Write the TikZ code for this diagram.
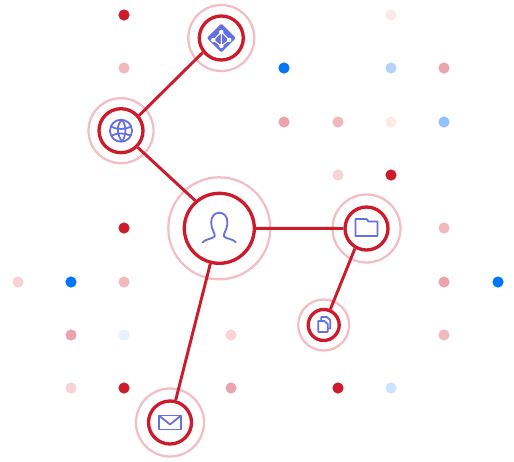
\documentclass[tikz,border=0pt]{standalone}
\usepackage{xcolor}
\usetikzlibrary{calc}
\definecolor{hubred}{HTML}{CE1B2C}
\definecolor{ringred}{HTML}{F3BEC3}
\definecolor{icoblue}{HTML}{6570E2}
\definecolor{dotblue}{HTML}{0076FF}
\definecolor{dotsky}{HTML}{B3D4FF}
\definecolor{dotice}{HTML}{CCE3FF}
\definecolor{dotmid}{HTML}{93C1FB}
\definecolor{dotpale}{HTML}{E6F0FF}
\definecolor{dotrose}{HTML}{EAA4AB}
\definecolor{dotpink}{HTML}{EFB9BE}
\definecolor{dotlight}{HTML}{F7D3D6}
\definecolor{dotfaint}{HTML}{FCE9E8}
\tikzset{
  hub/.style={circle,draw=hubred,line width=2.5pt,minimum size=#1*0.75pt,inner sep=0pt},
  ring/.style={circle,draw=ringred,line width=1.7pt,minimum size=#1*0.75pt,inner sep=0pt},
  link/.style={draw=hubred,line width=2.2pt},
  icon/.style={draw=icoblue,line width=1.35pt,line join=round},
  dot/.style={circle,fill=#1,minimum size=8.4pt,inner sep=0pt}
}
\begin{document}
\begin{tikzpicture}[x=0.75pt,y=-0.75pt]
  \useasboundingbox (0,0) rectangle (514,461);
  % background dots
  \foreach \x/\y/\c in {124/15/hubred,391/15/dotfaint,
      124/68/dotpink,284/68/dotblue,391/68/dotsky,444/68/dotrose,
      284/122/dotrose,338/122/dotpink,391/122/dotfaint,444/122/dotmid,
      338/175/dotlight,391/175/hubred,
      124/228/hubred,444/228/dotpink,
      18/282/dotlight,71/282/dotblue,124/282/dotpink,444/282/dotrose,498/282/dotblue,
      71/335/dotrose,124/335/dotpale,231/335/dotlight,444/335/dotpink,
      71/388/dotlight,124/388/hubred,231/388/dotrose,338/388/hubred,391/388/dotice}
    \node[dot=\c] (dot\x-\y) at (\x,\y) {};
  % rings
  \node[ring=66] (gitring) at (221.3,38) {};
  \node[ring=65] (globering) at (121,130.7) {};
  \node[ring=102] (userring) at (219.3,228.3) {};
  \node[ring=68] (folderring) at (366.5,228.5) {};
  \node[ring=51] (filesring) at (323.7,325) {};
  \node[ring=68] (mailring) at (170,422.5) {};
  % hubs
  \node[hub=44] (git) at (221.3,38) {};
  \node[hub=44] (globe) at (121,130.7) {};
  \node[hub=70] (user) at (219.3,228.3) {};
  \node[hub=43] (folder) at (366.5,228.5) {};
  \node[hub=31] (files) at (323.7,325) {};
  \node[hub=43] (mail) at (170,422.5) {};
  % links
  \draw[link] (git.218) -- (globe.40);
  \draw[link] (globe.-45) -- (user.131);
  \draw[link] (user) -- (folder);
  \draw[link] (folder.240) -- (files.67);
  \draw[link] (user) -- (mail);
  % git icon
  \begin{scope}[shift={(git)}]
    \fill[icoblue,rounded corners=1pt] (0,-14.5) -- (14.5,0) -- (0,14.5) -- (-14.5,0) -- cycle;
    \draw[white,line width=0.8pt] (0,-6) -- (-8,2) -- (0,8) -- (8,2) -- cycle (0,-6) -- (0,8);
    \foreach \p in {(0,-6),(-8,2),(8,2),(0,8)}
      \fill[white] \p circle (2.2);
  \end{scope}
  % globe icon
  \begin{scope}[shift={(globe)}]
    \draw[icon] (0,0) circle (11);
    \draw[icon] (-10,-4) .. controls (-4,-1) and (4,-1) .. (10,-4);
    \draw[icon] (-10,5) .. controls (-4,2) and (4,2) .. (10,5);
    \draw[icon] (1,-11) .. controls (-6,-4) and (-3,5) .. (1,11);
    \draw[icon] (1,-11) .. controls (6,-4) and (5,5) .. (1,11);
  \end{scope}
  % user icon
  \begin{scope}[shift={(user)}]
    \draw[icon,line cap=round] (-16.5,14) .. controls (-14,10.5) and (-6,10.5) .. (-4.5,8)
      .. controls (-4,5) and (-8,2) .. (-8,-6)
      .. controls (-8,-13) and (-4,-15.5) .. (0,-15.5)
      .. controls (4,-15.5) and (8,-13) .. (8,-6)
      .. controls (8,2) and (4,5) .. (4.5,8)
      .. controls (6,10.5) and (14,10.5) .. (16.5,14);
  \end{scope}
  % folder icon
  \begin{scope}[shift={(folder)}]
    \draw[icon] (-11,-9.5) -- (0,-9.5) -- (2,-7) -- (11,-7) -- (11,7.5) -- (-11,7.5) -- cycle;
  \end{scope}
  % files icon
  \begin{scope}[shift={(files)}]
    \draw[icon] (-2.5,-4.5) -- (-2.5,-8) -- (3,-8) -- (6.5,-5) -- (6.5,3.5) -- (4,3.5);
    \draw[icon] (-5.5,-4) -- (0.5,-4) -- (4,-1) -- (4,7) -- (-5.5,7) -- cycle;
  \end{scope}
  % mail icon
  \begin{scope}[shift={(mail)}]
    \draw[icon] (-11,-7) rectangle (11,7);
    \draw[icon] (-11,-7) -- (0,2) -- (11,-7);
  \end{scope}
\end{tikzpicture}
\end{document}
